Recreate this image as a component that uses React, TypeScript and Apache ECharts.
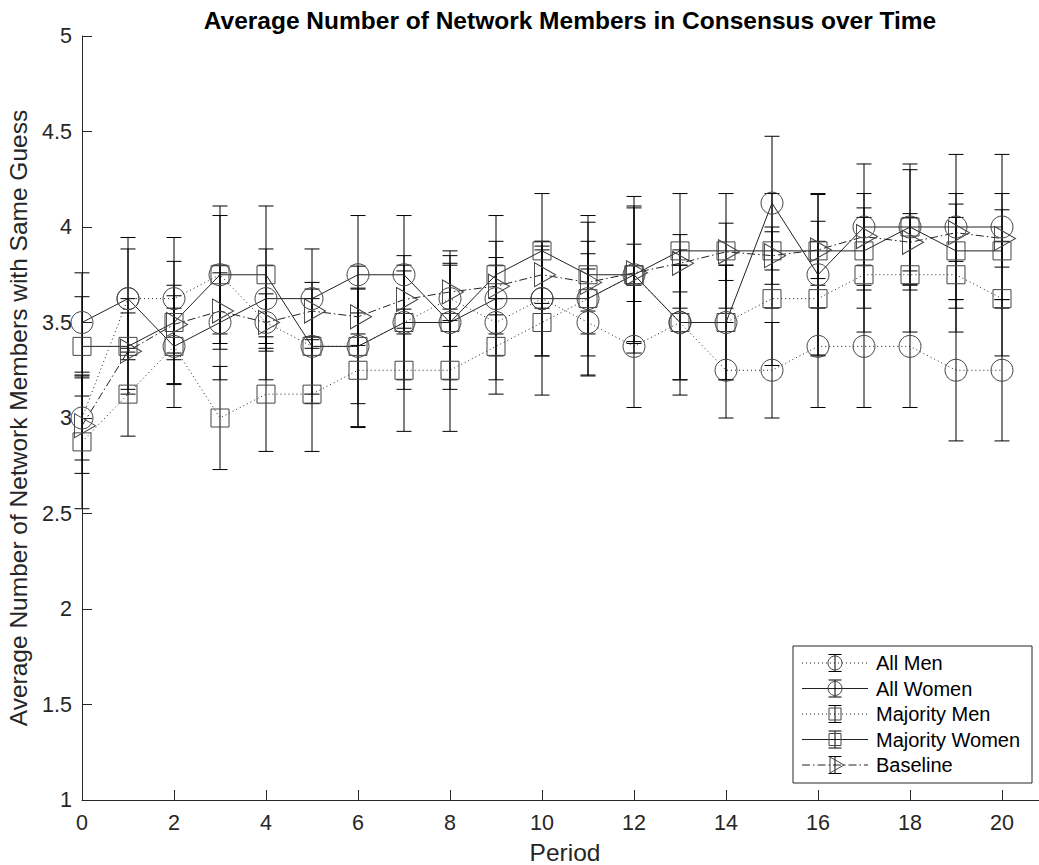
import React, { useEffect, useRef } from 'react';
import * as echarts from 'echarts';

const periods = [0, 1, 2, 3, 4, 5, 6, 7, 8, 9, 10, 11, 12, 13, 14, 15, 16, 17, 18, 19, 20];
const seriesNames = ['All Men', 'All Women', 'Majority Men', 'Majority Women', 'Baseline'];

const allMen = [3.0, 3.625, 3.625, 3.75, 3.5, 3.375, 3.375, 3.5, 3.625, 3.5, 3.625, 3.5, 3.375, 3.5, 3.25, 3.25, 3.375, 3.375, 3.375, 3.25, 3.25];
const allMenErr = [0.22, 0.32, 0.32, 0.36, 0.3, 0.3, 0.42, 0.35, 0.25, 0.3, 0.3, 0.28, 0.32, 0.3, 0.25, 0.25, 0.32, 0.32, 0.32, 0.37, 0.37];

const allWomen = [3.5, 3.625, 3.375, 3.5, 3.625, 3.625, 3.75, 3.75, 3.5, 3.625, 3.625, 3.625, 3.75, 3.5, 3.5, 4.125, 3.75, 4.0, 4.0, 4.0, 4.0];
const allWomenErr = [0.26, 0.26, 0.32, 0.3, 0.26, 0.26, 0.31, 0.31, 0.35, 0.3, 0.3, 0.4, 0.41, 0.38, 0.3, 0.35, 0.42, 0.33, 0.33, 0.38, 0.38];

const majorityMen = [2.875, 3.125, 3.375, 3.0, 3.125, 3.125, 3.25, 3.25, 3.25, 3.375, 3.5, 3.625, 3.75, 3.5, 3.5, 3.625, 3.625, 3.75, 3.75, 3.75, 3.625];
const majorityMenErr = [0.35, 0.22, 0.2, 0.27, 0.3, 0.3, 0.3, 0.32, 0.32, 0.25, 0.38, 0.3, 0.35, 0.3, 0.3, 0.35, 0.3, 0.3, 0.3, 0.3, 0.3];

const majorityWomen = [3.375, 3.375, 3.5, 3.75, 3.75, 3.375, 3.375, 3.5, 3.5, 3.75, 3.875, 3.75, 3.75, 3.875, 3.875, 3.875, 3.875, 3.875, 4.0, 3.875, 3.875];
const majorityWomenErr = [0.26, 0.25, 0.32, 0.31, 0.36, 0.25, 0.3, 0.3, 0.3, 0.31, 0.3, 0.31, 0.36, 0.3, 0.3, 0.3, 0.3, 0.3, 0.3, 0.3, 0.3];

const baseline = [2.96, 3.35, 3.49, 3.56, 3.5, 3.56, 3.53, 3.62, 3.66, 3.69, 3.75, 3.71, 3.76, 3.81, 3.87, 3.85, 3.88, 3.95, 3.92, 3.97, 3.94];
const baselineErr = [0.25, 0.2, 0.15, 0.2, 0.15, 0.15, 0.15, 0.15, 0.15, 0.15, 0.15, 0.15, 0.15, 0.15, 0.15, 0.15, 0.15, 0.15, 0.15, 0.15, 0.15];

const FONT = '"Liberation Sans", Arial, Helvetica, sans-serif';
const LINE = '#222';
const MARK = '#444';
const AXIS = '#262626';

const TRI = 'path://M0,0 L21,12 L0,24 Z';

const defs = [
  { values: allMen, err: allMenErr, symbol: 'circle', size: 22, offset: [0, 0], dash: [1, 3], kind: 'circle' },
  { values: allWomen, err: allWomenErr, symbol: 'circle', size: 22, offset: [0, 0], dash: 'solid', kind: 'circle' },
  { values: majorityMen, err: majorityMenErr, symbol: 'rect', size: 18, offset: [0, 0], dash: [1, 3], kind: 'rect' },
  { values: majorityWomen, err: majorityWomenErr, symbol: 'rect', size: 18, offset: [0, 0], dash: 'solid', kind: 'rect' },
  { values: baseline, err: baselineErr, symbol: TRI, size: [21, 24], offset: [3, 0], dash: [8, 3, 1.5, 3], kind: 'tri' },
];

function renderErr(params: any, api: any) {
  const x = api.value(0);
  const lo = api.value(1);
  const hi = api.value(2);
  const top = api.coord([x, hi]);
  const bot = api.coord([x, lo]);
  const hw = 7.5;
  const style = { stroke: '#000', lineWidth: 1 };
  return {
    type: 'group',
    children: [
      { type: 'line', shape: { x1: top[0], y1: top[1], x2: bot[0], y2: bot[1] }, style },
      { type: 'line', shape: { x1: top[0] - hw, y1: top[1], x2: top[0] + hw, y2: top[1] }, style },
      { type: 'line', shape: { x1: bot[0] - hw, y1: bot[1], x2: bot[0] + hw, y2: bot[1] }, style },
    ],
  };
}

function buildLegend() {
  const children: any[] = [];
  const bx = 793, by = 646, bw = 239, bh = 137;
  children.push({ type: 'rect', shape: { x: bx, y: by, width: bw, height: bh }, style: { fill: '#fff', stroke: AXIS, lineWidth: 1 } });
  seriesNames.forEach((name, i) => {
    const d = defs[i];
    const y = 663 + i * 25.5;
    const cx = 835;
    const dash = d.dash === 'solid' ? null : d.dash;
    children.push({ type: 'line', shape: { x1: 802, y1: y, x2: 868, y2: y }, style: { stroke: LINE, lineWidth: 1, lineDash: dash } });
    const es = { stroke: '#000', lineWidth: 1 };
    children.push({ type: 'line', shape: { x1: cx, y1: y - 8.5, x2: cx, y2: y + 8.5 }, style: es });
    children.push({ type: 'line', shape: { x1: cx - 6.5, y1: y - 8.5, x2: cx + 6.5, y2: y - 8.5 }, style: es });
    children.push({ type: 'line', shape: { x1: cx - 6.5, y1: y + 8.5, x2: cx + 6.5, y2: y + 8.5 }, style: es });
    const ms = { fill: 'none', stroke: MARK, lineWidth: 1 };
    if (d.kind === 'circle') children.push({ type: 'circle', shape: { cx, cy: y, r: 7 }, style: ms });
    else if (d.kind === 'rect') children.push({ type: 'rect', shape: { x: cx - 6, y: y - 6, width: 12, height: 12 }, style: ms });
    else children.push({ type: 'polygon', shape: { points: [[cx - 5, y - 8], [cx - 5, y + 8], [cx + 9, y]] }, style: ms });
    children.push({ type: 'text', x: 876, y, style: { text: name, fontSize: 20, fontFamily: FONT, fill: '#000', verticalAlign: 'middle', align: 'left' } });
  });
  return [{ type: 'group', z: 100, children }];
}

export default function App() {
  const ref = useRef<HTMLDivElement>(null);
  useEffect(() => {
    const chart = echarts.init(ref.current!, null, { renderer: 'svg' });
    const series: any[] = [];
    defs.forEach((d, i) => {
      series.push({
        type: 'custom',
        name: seriesNames[i] + ' error',
        renderItem: renderErr,
        data: periods.map((p, k) => [p, d.values[k] - d.err[k], d.values[k] + d.err[k]]),
        encode: { x: 0, y: [1, 2] },
        z: 2,
        silent: true,
        clip: false,
      });
    });
    defs.forEach((d, i) => {
      series.push({
        type: 'line',
        name: seriesNames[i],
        data: periods.map((p, k) => [p, d.values[k]]),
        symbol: d.symbol,
        symbolSize: d.size,
        symbolOffset: d.offset,
        showAllSymbol: true,
        itemStyle: { color: 'rgba(0,0,0,0)', borderColor: MARK, borderWidth: 1 },
        lineStyle: { color: LINE, width: 1, type: d.dash },
        emphasis: { disabled: true },
        silent: true,
        z: 3,
      });
    });
    chart.setOption({
      animation: false,
      backgroundColor: '#fff',
      title: {
        text: 'Average Number of Network Members in Consensus over Time',
        left: 565,
        top: 3,
        textAlign: 'center',
        textStyle: { fontFamily: FONT, fontSize: 24.5, fontWeight: 'bold', color: '#000' },
      },
      grid: { left: 82, top: 36, width: 966, height: 764, outerBoundsMode: 'none', containLabel: false },
      xAxis: {
        type: 'value',
        min: 0,
        max: 21,
        interval: 2,
        name: 'Period',
        nameLocation: 'middle',
        nameGap: 42,
        nameTextStyle: { fontFamily: FONT, fontSize: 24.5, lineHeight: 20, color: AXIS },
        axisLine: { show: true, lineStyle: { color: AXIS, width: 1 } },
        axisTick: { show: true, inside: true, length: 10, lineStyle: { color: AXIS } },
        axisLabel: { fontFamily: FONT, fontSize: 21.5, color: AXIS, margin: 12, showMaxLabel: false },
        splitLine: { show: false },
      },
      yAxis: {
        type: 'value',
        min: 1,
        max: 5,
        interval: 0.5,
        name: 'Average Number of Network Members with Same Guess',
        nameLocation: 'middle',
        nameGap: 47,
        nameTextStyle: { fontFamily: FONT, fontSize: 24.5, color: AXIS },
        axisLine: { show: true, lineStyle: { color: AXIS, width: 1 } },
        axisTick: { show: true, inside: true, length: 10, lineStyle: { color: AXIS } },
        axisLabel: { fontFamily: FONT, fontSize: 21.5, color: AXIS, margin: 10 },
        splitLine: { show: false },
      },
      graphic: buildLegend(),
      series,
    });
    return () => chart.dispose();
  }, []);
  return <div ref={ref} style={{ position: 'fixed', left: 0, top: 0, width: 1039, height: 865, background: '#fff' }} />;
}
